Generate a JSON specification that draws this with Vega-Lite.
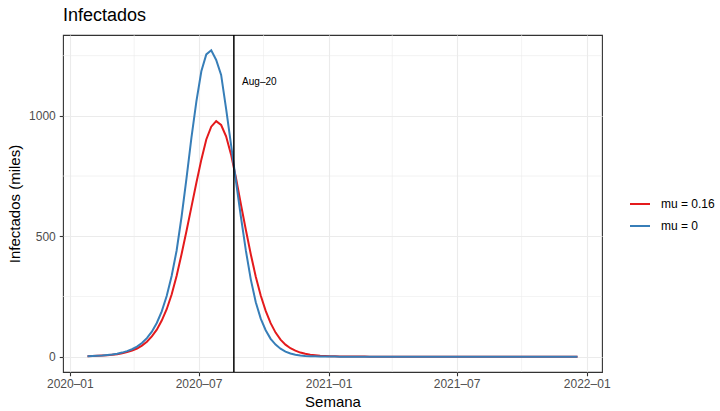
{
  "$schema": "https://vega.github.io/schema/vega-lite/v6.json",
  "width": 539,
  "height": 337,
  "autosize": {"type": "none"},
  "padding": {"left": 63, "top": 35, "right": 118, "bottom": 39},
  "background": "white",
  "title": {"text": "Infectados", "anchor": "start", "frame": "group", "fontSize": 18, "fontWeight": "normal", "color": "black", "font": "Liberation Sans", "offset": 9},
  "config": {
    "view": {"stroke": "#333333", "strokeWidth": 1.1},
    "font": "Liberation Sans",
    "axis": {"domain": false, "tickColor": "#333333", "tickSize": 3.75, "tickWidth": 1.1, "labelColor": "#4D4D4D", "labelFontSize": 12, "titleFontSize": 15, "titleFontWeight": "normal", "titleColor": "black", "gridColor": "#EBEBEB", "gridWidth": 1.1},
    "legend": {"labelFontSize": 12, "labelColor": "black"}
  },
  "layer": [
    {
      "data": {"values": [{"semana": "2020-04-01"}, {"semana": "2020-10-01"}, {"semana": "2021-04-01"}, {"semana": "2021-10-01"}]},
      "mark": {"type": "rule", "color": "#EBEBEB", "strokeWidth": 0.6},
      "encoding": {"x": {"field": "semana", "type": "temporal"}}
    },
    {
      "data": {"values": [{"inf": 250}, {"inf": 750}, {"inf": 1250}]},
      "mark": {"type": "rule", "color": "#EBEBEB", "strokeWidth": 0.6},
      "encoding": {"y": {"field": "inf", "type": "quantitative"}}
    },
    {
      "data": {"name": "series"},
      "mark": {"type": "line", "strokeWidth": 2},
      "encoding": {
        "x": {"field": "semana", "type": "temporal",
          "scale": {"type": "utc", "domain": [{"year": 2019, "month": 12, "date": 22, "hours": 8, "minutes": 24, "utc": true}, {"year": 2022, "month": 1, "date": 22, "hours": 15, "minutes": 36, "utc": true}]},
          "axis": {"title": "Semana", "format": "%Y–%m", "values": [{"year": 2020, "month": 1, "date": 1, "utc": true}, {"year": 2020, "month": 7, "date": 1, "utc": true}, {"year": 2021, "month": 1, "date": 1, "utc": true}, {"year": 2021, "month": 7, "date": 1, "utc": true}, {"year": 2022, "month": 1, "date": 1, "utc": true}], "labelPadding": 3, "titlePadding": 5, "grid": true}},
        "y": {"field": "inf", "type": "quantitative",
          "scale": {"domain": [-63.6, 1335.6], "nice": false, "zero": false},
          "axis": {"title": "Infectados (miles)", "format": "d", "values": [0, 500, 1000], "labelPadding": 4, "titlePadding": 6, "grid": true}},
        "color": {"field": "mu", "type": "nominal",
          "scale": {"domain": ["mu = 0.16", "mu = 0"], "range": ["#E41A1C", "#377EB8"]},
          "legend": {"title": null, "orient": "none", "legendX": 566, "legendY": 158, "symbolType": "stroke", "symbolSize": 400, "symbolStrokeWidth": 2, "labelOffset": 10, "rowPadding": 5, "padding": 0}},
        "order": {"field": "k", "type": "quantitative"}
      }
    },
    {
      "data": {"values": [{"semana": "2020-08-20"}]},
      "mark": {"type": "rule", "color": "black", "strokeWidth": 1.5},
      "encoding": {"x": {"field": "semana", "type": "temporal"}}
    },
    {
      "data": {"values": [{"semana": "2020-09-25", "inf": 1140, "label": "Aug–20"}]},
      "mark": {"type": "text", "fontSize": 10, "align": "center", "baseline": "middle", "color": "black"},
      "encoding": {"x": {"field": "semana", "type": "temporal"}, "y": {"field": "inf", "type": "quantitative"}, "text": {"field": "label"}}
    }
  ],
  "datasets": {
    "series": [
{"k":0,"semana":"2020-01-26","mu":"mu = 0.16","inf":2},
{"k":1,"semana":"2020-02-02","mu":"mu = 0.16","inf":3},
{"k":2,"semana":"2020-02-09","mu":"mu = 0.16","inf":4},
{"k":3,"semana":"2020-02-16","mu":"mu = 0.16","inf":5},
{"k":4,"semana":"2020-02-23","mu":"mu = 0.16","inf":6},
{"k":5,"semana":"2020-03-01","mu":"mu = 0.16","inf":8},
{"k":6,"semana":"2020-03-08","mu":"mu = 0.16","inf":10},
{"k":7,"semana":"2020-03-15","mu":"mu = 0.16","inf":14},
{"k":8,"semana":"2020-03-22","mu":"mu = 0.16","inf":19},
{"k":9,"semana":"2020-03-29","mu":"mu = 0.16","inf":25},
{"k":10,"semana":"2020-04-05","mu":"mu = 0.16","inf":34},
{"k":11,"semana":"2020-04-12","mu":"mu = 0.16","inf":46},
{"k":12,"semana":"2020-04-19","mu":"mu = 0.16","inf":62},
{"k":13,"semana":"2020-04-26","mu":"mu = 0.16","inf":84},
{"k":14,"semana":"2020-05-03","mu":"mu = 0.16","inf":112},
{"k":15,"semana":"2020-05-10","mu":"mu = 0.16","inf":150},
{"k":16,"semana":"2020-05-17","mu":"mu = 0.16","inf":197},
{"k":17,"semana":"2020-05-24","mu":"mu = 0.16","inf":258},
{"k":18,"semana":"2020-05-31","mu":"mu = 0.16","inf":335},
{"k":19,"semana":"2020-06-07","mu":"mu = 0.16","inf":425},
{"k":20,"semana":"2020-06-14","mu":"mu = 0.16","inf":522},
{"k":21,"semana":"2020-06-21","mu":"mu = 0.16","inf":622},
{"k":22,"semana":"2020-06-28","mu":"mu = 0.16","inf":722},
{"k":23,"semana":"2020-07-05","mu":"mu = 0.16","inf":818},
{"k":24,"semana":"2020-07-12","mu":"mu = 0.16","inf":902},
{"k":25,"semana":"2020-07-19","mu":"mu = 0.16","inf":955},
{"k":26,"semana":"2020-07-26","mu":"mu = 0.16","inf":978},
{"k":27,"semana":"2020-08-02","mu":"mu = 0.16","inf":962},
{"k":28,"semana":"2020-08-09","mu":"mu = 0.16","inf":915},
{"k":29,"semana":"2020-08-16","mu":"mu = 0.16","inf":840},
{"k":30,"semana":"2020-08-23","mu":"mu = 0.16","inf":742},
{"k":31,"semana":"2020-08-30","mu":"mu = 0.16","inf":632},
{"k":32,"semana":"2020-09-06","mu":"mu = 0.16","inf":526},
{"k":33,"semana":"2020-09-13","mu":"mu = 0.16","inf":424},
{"k":34,"semana":"2020-09-20","mu":"mu = 0.16","inf":332},
{"k":35,"semana":"2020-09-27","mu":"mu = 0.16","inf":254},
{"k":36,"semana":"2020-10-04","mu":"mu = 0.16","inf":190},
{"k":37,"semana":"2020-10-11","mu":"mu = 0.16","inf":139},
{"k":38,"semana":"2020-10-18","mu":"mu = 0.16","inf":100},
{"k":39,"semana":"2020-10-25","mu":"mu = 0.16","inf":71},
{"k":40,"semana":"2020-11-01","mu":"mu = 0.16","inf":50},
{"k":41,"semana":"2020-11-08","mu":"mu = 0.16","inf":35},
{"k":42,"semana":"2020-11-15","mu":"mu = 0.16","inf":25},
{"k":43,"semana":"2020-11-22","mu":"mu = 0.16","inf":17},
{"k":44,"semana":"2020-11-29","mu":"mu = 0.16","inf":12},
{"k":45,"semana":"2020-12-06","mu":"mu = 0.16","inf":8},
{"k":46,"semana":"2020-12-13","mu":"mu = 0.16","inf":6},
{"k":47,"semana":"2020-12-20","mu":"mu = 0.16","inf":4},
{"k":48,"semana":"2020-12-27","mu":"mu = 0.16","inf":3},
{"k":49,"semana":"2021-01-03","mu":"mu = 0.16","inf":2},
{"k":50,"semana":"2021-01-10","mu":"mu = 0.16","inf":1.5},
{"k":51,"semana":"2021-01-17","mu":"mu = 0.16","inf":1.1},
{"k":52,"semana":"2021-01-24","mu":"mu = 0.16","inf":0.8},
{"k":53,"semana":"2021-01-31","mu":"mu = 0.16","inf":0.6},
{"k":54,"semana":"2021-02-07","mu":"mu = 0.16","inf":0.5},
{"k":55,"semana":"2021-02-14","mu":"mu = 0.16","inf":0.4},
{"k":56,"semana":"2021-02-21","mu":"mu = 0.16","inf":0.3},
{"k":57,"semana":"2021-02-28","mu":"mu = 0.16","inf":0.2},
{"k":58,"semana":"2021-03-07","mu":"mu = 0.16","inf":0.2},
{"k":59,"semana":"2021-03-14","mu":"mu = 0.16","inf":0.1},
{"k":60,"semana":"2021-03-21","mu":"mu = 0.16","inf":0.1},
{"k":61,"semana":"2021-03-28","mu":"mu = 0.16","inf":0.1},
{"k":62,"semana":"2021-04-04","mu":"mu = 0.16","inf":0},
{"k":63,"semana":"2021-04-11","mu":"mu = 0.16","inf":0},
{"k":64,"semana":"2021-04-18","mu":"mu = 0.16","inf":0},
{"k":65,"semana":"2021-04-25","mu":"mu = 0.16","inf":0},
{"k":66,"semana":"2021-05-02","mu":"mu = 0.16","inf":0},
{"k":67,"semana":"2021-05-09","mu":"mu = 0.16","inf":0},
{"k":68,"semana":"2021-05-16","mu":"mu = 0.16","inf":0},
{"k":69,"semana":"2021-05-23","mu":"mu = 0.16","inf":0},
{"k":70,"semana":"2021-05-30","mu":"mu = 0.16","inf":0},
{"k":71,"semana":"2021-06-06","mu":"mu = 0.16","inf":0},
{"k":72,"semana":"2021-06-13","mu":"mu = 0.16","inf":0},
{"k":73,"semana":"2021-06-20","mu":"mu = 0.16","inf":0},
{"k":74,"semana":"2021-06-27","mu":"mu = 0.16","inf":0},
{"k":75,"semana":"2021-07-04","mu":"mu = 0.16","inf":0},
{"k":76,"semana":"2021-07-11","mu":"mu = 0.16","inf":0},
{"k":77,"semana":"2021-07-18","mu":"mu = 0.16","inf":0},
{"k":78,"semana":"2021-07-25","mu":"mu = 0.16","inf":0},
{"k":79,"semana":"2021-08-01","mu":"mu = 0.16","inf":0},
{"k":80,"semana":"2021-08-08","mu":"mu = 0.16","inf":0},
{"k":81,"semana":"2021-08-15","mu":"mu = 0.16","inf":0},
{"k":82,"semana":"2021-08-22","mu":"mu = 0.16","inf":0},
{"k":83,"semana":"2021-08-29","mu":"mu = 0.16","inf":0},
{"k":84,"semana":"2021-09-05","mu":"mu = 0.16","inf":0},
{"k":85,"semana":"2021-09-12","mu":"mu = 0.16","inf":0},
{"k":86,"semana":"2021-09-19","mu":"mu = 0.16","inf":0},
{"k":87,"semana":"2021-09-26","mu":"mu = 0.16","inf":0},
{"k":88,"semana":"2021-10-03","mu":"mu = 0.16","inf":0},
{"k":89,"semana":"2021-10-10","mu":"mu = 0.16","inf":0},
{"k":90,"semana":"2021-10-17","mu":"mu = 0.16","inf":0},
{"k":91,"semana":"2021-10-24","mu":"mu = 0.16","inf":0},
{"k":92,"semana":"2021-10-31","mu":"mu = 0.16","inf":0},
{"k":93,"semana":"2021-11-07","mu":"mu = 0.16","inf":0},
{"k":94,"semana":"2021-11-14","mu":"mu = 0.16","inf":0},
{"k":95,"semana":"2021-11-21","mu":"mu = 0.16","inf":0},
{"k":96,"semana":"2021-11-28","mu":"mu = 0.16","inf":0},
{"k":97,"semana":"2021-12-05","mu":"mu = 0.16","inf":0},
{"k":98,"semana":"2021-12-12","mu":"mu = 0.16","inf":0},
{"k":99,"semana":"2021-12-19","mu":"mu = 0.16","inf":0},
{"k":0,"semana":"2020-01-26","mu":"mu = 0","inf":2},
{"k":1,"semana":"2020-02-02","mu":"mu = 0","inf":3},
{"k":2,"semana":"2020-02-09","mu":"mu = 0","inf":4},
{"k":3,"semana":"2020-02-16","mu":"mu = 0","inf":5},
{"k":4,"semana":"2020-02-23","mu":"mu = 0","inf":7},
{"k":5,"semana":"2020-03-01","mu":"mu = 0","inf":9},
{"k":6,"semana":"2020-03-08","mu":"mu = 0","inf":12},
{"k":7,"semana":"2020-03-15","mu":"mu = 0","inf":17},
{"k":8,"semana":"2020-03-22","mu":"mu = 0","inf":23},
{"k":9,"semana":"2020-03-29","mu":"mu = 0","inf":31},
{"k":10,"semana":"2020-04-05","mu":"mu = 0","inf":42},
{"k":11,"semana":"2020-04-12","mu":"mu = 0","inf":57},
{"k":12,"semana":"2020-04-19","mu":"mu = 0","inf":77},
{"k":13,"semana":"2020-04-26","mu":"mu = 0","inf":104},
{"k":14,"semana":"2020-05-03","mu":"mu = 0","inf":140},
{"k":15,"semana":"2020-05-10","mu":"mu = 0","inf":188},
{"k":16,"semana":"2020-05-17","mu":"mu = 0","inf":252},
{"k":17,"semana":"2020-05-24","mu":"mu = 0","inf":335},
{"k":18,"semana":"2020-05-31","mu":"mu = 0","inf":440},
{"k":19,"semana":"2020-06-07","mu":"mu = 0","inf":580},
{"k":20,"semana":"2020-06-14","mu":"mu = 0","inf":740},
{"k":21,"semana":"2020-06-21","mu":"mu = 0","inf":910},
{"k":22,"semana":"2020-06-28","mu":"mu = 0","inf":1060},
{"k":23,"semana":"2020-07-05","mu":"mu = 0","inf":1185},
{"k":24,"semana":"2020-07-12","mu":"mu = 0","inf":1255},
{"k":25,"semana":"2020-07-19","mu":"mu = 0","inf":1272},
{"k":26,"semana":"2020-07-26","mu":"mu = 0","inf":1232},
{"k":27,"semana":"2020-08-02","mu":"mu = 0","inf":1170},
{"k":28,"semana":"2020-08-09","mu":"mu = 0","inf":1030},
{"k":29,"semana":"2020-08-16","mu":"mu = 0","inf":880},
{"k":30,"semana":"2020-08-23","mu":"mu = 0","inf":728},
{"k":31,"semana":"2020-08-30","mu":"mu = 0","inf":580},
{"k":32,"semana":"2020-09-06","mu":"mu = 0","inf":440},
{"k":33,"semana":"2020-09-13","mu":"mu = 0","inf":320},
{"k":34,"semana":"2020-09-20","mu":"mu = 0","inf":226},
{"k":35,"semana":"2020-09-27","mu":"mu = 0","inf":158},
{"k":36,"semana":"2020-10-04","mu":"mu = 0","inf":110},
{"k":37,"semana":"2020-10-11","mu":"mu = 0","inf":74},
{"k":38,"semana":"2020-10-18","mu":"mu = 0","inf":50},
{"k":39,"semana":"2020-10-25","mu":"mu = 0","inf":33},
{"k":40,"semana":"2020-11-01","mu":"mu = 0","inf":21},
{"k":41,"semana":"2020-11-08","mu":"mu = 0","inf":13},
{"k":42,"semana":"2020-11-15","mu":"mu = 0","inf":8},
{"k":43,"semana":"2020-11-22","mu":"mu = 0","inf":5},
{"k":44,"semana":"2020-11-29","mu":"mu = 0","inf":3},
{"k":45,"semana":"2020-12-06","mu":"mu = 0","inf":2},
{"k":46,"semana":"2020-12-13","mu":"mu = 0","inf":1.3},
{"k":47,"semana":"2020-12-20","mu":"mu = 0","inf":0.9},
{"k":48,"semana":"2020-12-27","mu":"mu = 0","inf":0.6},
{"k":49,"semana":"2021-01-03","mu":"mu = 0","inf":0.4},
{"k":50,"semana":"2021-01-10","mu":"mu = 0","inf":0.3},
{"k":51,"semana":"2021-01-17","mu":"mu = 0","inf":0.2},
{"k":52,"semana":"2021-01-24","mu":"mu = 0","inf":0.1},
{"k":53,"semana":"2021-01-31","mu":"mu = 0","inf":0.1},
{"k":54,"semana":"2021-02-07","mu":"mu = 0","inf":0},
{"k":55,"semana":"2021-02-14","mu":"mu = 0","inf":0},
{"k":56,"semana":"2021-02-21","mu":"mu = 0","inf":0},
{"k":57,"semana":"2021-02-28","mu":"mu = 0","inf":0},
{"k":58,"semana":"2021-03-07","mu":"mu = 0","inf":0},
{"k":59,"semana":"2021-03-14","mu":"mu = 0","inf":0},
{"k":60,"semana":"2021-03-21","mu":"mu = 0","inf":0},
{"k":61,"semana":"2021-03-28","mu":"mu = 0","inf":0},
{"k":62,"semana":"2021-04-04","mu":"mu = 0","inf":0},
{"k":63,"semana":"2021-04-11","mu":"mu = 0","inf":0},
{"k":64,"semana":"2021-04-18","mu":"mu = 0","inf":0},
{"k":65,"semana":"2021-04-25","mu":"mu = 0","inf":0},
{"k":66,"semana":"2021-05-02","mu":"mu = 0","inf":0},
{"k":67,"semana":"2021-05-09","mu":"mu = 0","inf":0},
{"k":68,"semana":"2021-05-16","mu":"mu = 0","inf":0},
{"k":69,"semana":"2021-05-23","mu":"mu = 0","inf":0},
{"k":70,"semana":"2021-05-30","mu":"mu = 0","inf":0},
{"k":71,"semana":"2021-06-06","mu":"mu = 0","inf":0},
{"k":72,"semana":"2021-06-13","mu":"mu = 0","inf":0},
{"k":73,"semana":"2021-06-20","mu":"mu = 0","inf":0},
{"k":74,"semana":"2021-06-27","mu":"mu = 0","inf":0},
{"k":75,"semana":"2021-07-04","mu":"mu = 0","inf":0},
{"k":76,"semana":"2021-07-11","mu":"mu = 0","inf":0},
{"k":77,"semana":"2021-07-18","mu":"mu = 0","inf":0},
{"k":78,"semana":"2021-07-25","mu":"mu = 0","inf":0},
{"k":79,"semana":"2021-08-01","mu":"mu = 0","inf":0},
{"k":80,"semana":"2021-08-08","mu":"mu = 0","inf":0},
{"k":81,"semana":"2021-08-15","mu":"mu = 0","inf":0},
{"k":82,"semana":"2021-08-22","mu":"mu = 0","inf":0},
{"k":83,"semana":"2021-08-29","mu":"mu = 0","inf":0},
{"k":84,"semana":"2021-09-05","mu":"mu = 0","inf":0},
{"k":85,"semana":"2021-09-12","mu":"mu = 0","inf":0},
{"k":86,"semana":"2021-09-19","mu":"mu = 0","inf":0},
{"k":87,"semana":"2021-09-26","mu":"mu = 0","inf":0},
{"k":88,"semana":"2021-10-03","mu":"mu = 0","inf":0},
{"k":89,"semana":"2021-10-10","mu":"mu = 0","inf":0},
{"k":90,"semana":"2021-10-17","mu":"mu = 0","inf":0},
{"k":91,"semana":"2021-10-24","mu":"mu = 0","inf":0},
{"k":92,"semana":"2021-10-31","mu":"mu = 0","inf":0},
{"k":93,"semana":"2021-11-07","mu":"mu = 0","inf":0},
{"k":94,"semana":"2021-11-14","mu":"mu = 0","inf":0},
{"k":95,"semana":"2021-11-21","mu":"mu = 0","inf":0},
{"k":96,"semana":"2021-11-28","mu":"mu = 0","inf":0},
{"k":97,"semana":"2021-12-05","mu":"mu = 0","inf":0},
{"k":98,"semana":"2021-12-12","mu":"mu = 0","inf":0},
{"k":99,"semana":"2021-12-19","mu":"mu = 0","inf":0}
    ]
  }
}
